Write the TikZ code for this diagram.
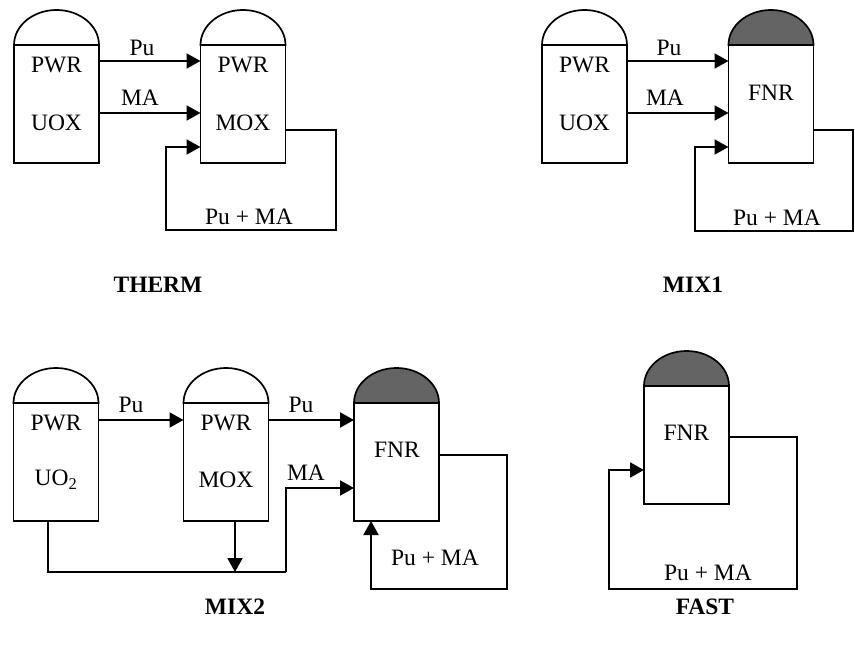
\documentclass[tikz,border=0pt]{standalone}
\usepackage{fontspec}
\setmainfont{Liberation Serif}
\usetikzlibrary{arrows.meta,calc}
\definecolor{domegray}{RGB}{100,100,100}
\newcommand\mydome[2]{\draw[line width=1.7pt, fill=#2] (#1.north west) arc[start angle=180,end angle=0,x radius=42.5pt,y radius=35pt] -- cycle;}
\begin{document}
\begin{tikzpicture}[x=1pt,y=-1pt,
  reactor/.style={draw, line width=1.7pt, minimum width=85pt, minimum height=118pt, inner sep=0pt, outer sep=0pt, fill=white},
  txt/.style={font=\fontsize{23.5}{27}\selectfont, inner sep=0pt},
  ttl/.style={font=\bfseries\fontsize{23.5}{27}\selectfont, inner sep=0pt},
  flow/.style={line width=2pt, -{Triangle[length=14pt,width=15pt]}},
  plain/.style={line width=2pt},
  ]
\useasboundingbox (0,0) rectangle (855,652);

% ---------- THERM ----------
\node[reactor] (a1) at (56.5,104) {};
\node[reactor] (a2) at (243,104) {};
\mydome{a1}{white}
\mydome{a2}{white}
\node[txt] (a1t) at (56.5,65) {PWR};
\node[txt] (a1b) at (56.5,123) {UOX};
\node[txt] (a2t) at (243,65) {PWR};
\node[txt] (a2b) at (243,123) {MOX};
\draw[flow] ([yshift=-16pt]a1.north east) -- ([yshift=-16pt]a2.north west);
\draw[flow] ([yshift=-68pt]a1.north east) -- ([yshift=-68pt]a2.north west);
\coordinate (a3) at (336,230);
\coordinate (a4) at (166,230);
\draw[flow] ([yshift=-85pt]a2.north east) -| (a3) -- (a4) |- ([yshift=-102pt]a2.north west);
\node[txt] (apu) at (142,48) {Pu};
\node[txt] (ama) at (140,98) {MA};
\node[txt] (aloop) at (249,217) {Pu + MA};
\node[ttl] (atitle) at (158,285) {THERM};

% ---------- MIX1 ----------
\node[reactor] (b1) at (584.5,104) {};
\node[reactor] (b2) at (771,104) {};
\mydome{b1}{white}
\mydome{b2}{domegray}
\node[txt] (b1t) at (584.5,65) {PWR};
\node[txt] (b1b) at (584.5,123) {UOX};
\node[txt] (b2t) at (771,93) {FNR};
\draw[flow] ([yshift=-16pt]b1.north east) -- ([yshift=-16pt]b2.north west);
\draw[flow] ([yshift=-68pt]b1.north east) -- ([yshift=-68pt]b2.north west);
\coordinate (b3) at (853,231);
\coordinate (b4) at (695,231);
\draw[flow] ([yshift=-85pt]b2.north east) -| (b3) -- (b4) |- ([yshift=-102pt]b2.north west);
\node[txt] (bpu) at (669,48) {Pu};
\node[txt] (bma) at (665,98) {MA};
\node[txt] (bloop) at (777,218) {Pu + MA};
\node[ttl] (btitle) at (693,285) {MIX1};

% ---------- MIX2 ----------
\node[reactor] (c1) at (56,462) {};
\node[reactor] (c2) at (226,462) {};
\node[reactor] (c3) at (396.5,462) {};
\mydome{c1}{white}
\mydome{c2}{white}
\mydome{c3}{domegray}
\node[txt] (c1t) at (56,423) {PWR};
\node[txt] (c1b) at (56,480) {UO\textsubscript{2}};
\node[txt] (c2t) at (226,423) {PWR};
\node[txt] (c2b) at (226,480) {MOX};
\node[txt] (c3t) at (397,450) {FNR};
\draw[flow] ([yshift=-17pt]c1.north east) -- ([yshift=-17pt]c2.north west);
\draw[flow] ([yshift=-17pt]c2.north east) -- ([yshift=-17pt]c3.north west);
\coordinate (c5) at (286,572);
\coordinate (c6) at (235,572);
\draw[plain] ([xshift=-8pt]c1.south) |- (c5);
\draw[flow] (c5) |- ([yshift=-85pt]c3.north west);
\draw[flow] ([xshift=9pt]c2.south) -- (c6);
\coordinate (c7) at (507,589);
\coordinate (c8) at (371,589);
\draw[flow] ([yshift=-52pt]c3.north east) -| (c7) -- (c8) -- ([xshift=-25.5pt]c3.south);
\node[txt] (cpu1) at (131,405) {Pu};
\node[txt] (cpu2) at (301,405) {Pu};
\node[txt] (cma) at (306,473) {MA};
\node[txt] (cloop) at (435,558) {Pu + MA};
\node[ttl] (ctitle) at (235,607) {MIX2};

% ---------- FAST ----------
\node[reactor] (d1) at (686.5,445) {};
\mydome{d1}{domegray}
\node[txt] (d1t) at (686.5,433) {FNR};
\coordinate (d2) at (797,589);
\coordinate (d3) at (609,589);
\draw[flow] ([yshift=-51pt]d1.north east) -| (d2) -- (d3) |- ([yshift=-84pt]d1.north west);
\node[txt] (dloop) at (708,573) {Pu + MA};
\node[ttl] (dtitle) at (705,607) {FAST};
\end{tikzpicture}
\end{document}
